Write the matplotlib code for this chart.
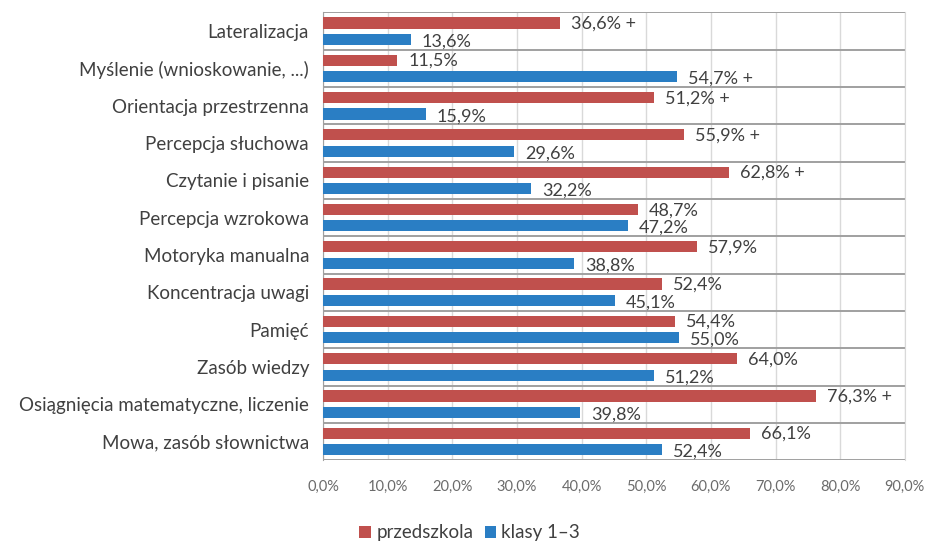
import matplotlib.pyplot as plt
import numpy as np

categories = [
    "Lateralizacja",
    "Myślenie (wnioskowanie, ...)",
    "Orientacja przestrzenna",
    "Percepcja słuchowa",
    "Czytanie i pisanie",
    "Percepcja wzrokowa",
    "Motoryka manualna",
    "Koncentracja uwagi",
    "Pamięć",
    "Zasób wiedzy",
    "Osiągnięcia matematyczne, liczenie",
    "Mowa, zasób słownictwa",
]
przedszkola = [36.6, 11.5, 51.2, 55.9, 62.8, 48.7, 57.9, 52.4, 54.4, 64.0, 76.3, 66.1]
klasy = [13.6, 54.7, 15.9, 29.6, 32.2, 47.2, 38.8, 45.1, 55.0, 51.2, 39.8, 52.4]
plus_przedszkola = [True, False, True, True, True, False, False, False, False, False, True, False]
plus_klasy = [False, True, False, False, False, False, False, False, False, False, False, False]
x_ticks = [0, 10, 20, 30, 40, 50, 60, 70, 80, 90]

RED = "#C0504D"
BLUE = "#2A7EC4"
TXT = "#404040"

plt.rcParams["font.family"] = ["Lato", "DejaVu Sans"]

fig = plt.figure(figsize=(9.34, 5.42), dpi=100)
ax = fig.add_axes([0.3458, 0.151, 0.623, 0.826])

y = np.arange(len(categories))
h = 0.30
ax.barh(y - 0.22, przedszkola, height=h, color=RED, label="przedszkola", zorder=3)
ax.barh(y + 0.22, klasy, height=h, color=BLUE, label="klasy 1–3", zorder=3)


def fmt(v, plus):
    s = f"{v:.1f}".replace(".", ",") + "%"
    return s + " +" if plus else s


for i in range(len(categories)):
    ax.text(przedszkola[i] + 1.7, y[i] - 0.2, fmt(przedszkola[i], plus_przedszkola[i]),
            va="center", ha="left", fontsize=13, color=TXT, zorder=4)
    ax.text(klasy[i] + 1.7, y[i] + 0.28, fmt(klasy[i], plus_klasy[i]),
            va="center", ha="left", fontsize=13, color=TXT, zorder=4)

# category separators
for b in np.arange(-0.5, len(categories), 1.0):
    ax.axhline(b, color="#A0A0A0", lw=1.4, zorder=2)

ax.set_xlim(0, 90)
ax.set_ylim(len(categories) - 0.5, -0.5)
ax.set_xticks(x_ticks)
ax.set_xticklabels([f"{t:.1f}".replace(".", ",") + "%" for t in x_ticks],
                   fontsize=10.5, color="#6b6b6b")
ax.set_yticks(y)
ax.set_yticklabels(categories, fontsize=13.5, color=TXT)
ax.tick_params(axis="both", length=0)
ax.tick_params(axis="y", pad=10)
ax.tick_params(axis="x", pad=14)
ax.grid(axis="x", color="#D9D9D9", lw=1, zorder=1)

for side in ["top", "bottom"]:
    ax.spines[side].set_visible(False)
ax.spines["left"].set_color("#A0A0A0")
ax.spines["right"].set_color("#D9D9D9")

fig.legend(loc="lower center", bbox_to_anchor=(0.503, -0.03), ncol=2, frameon=False,
           fontsize=13.5, handlelength=0.6, handleheight=0.6, handletextpad=0.3,
           columnspacing=0.6, labelcolor=TXT)

fig.savefig("out.png", dpi=100)
